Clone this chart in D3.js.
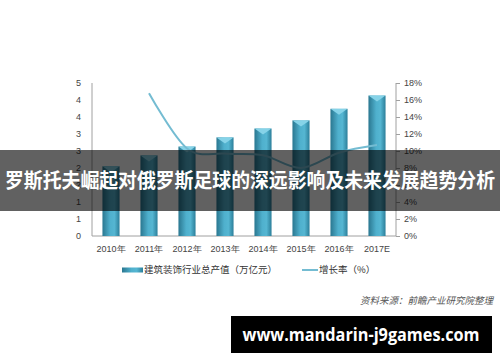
<!DOCTYPE html>
<html>
<head>
<meta charset="utf-8">
<script src="https://cdn.jsdelivr.net/npm/d3@7"></script>
<style>
  body { margin: 0; background: #fff; }
  svg { display: block; font-family: "Noto Sans CJK SC", "Noto Sans", sans-serif; }
</style>
</head>
<body>
<div id="chart"></div>
<script>
const years = ['2010年', '2011年', '2012年', '2013年', '2014年', '2015年', '2016年', '2017E'];
const output = [2.05, 2.37, 2.63, 2.90, 3.16, 3.40, 3.74, 4.13];   // 万亿元
const growth = [null, 16.8, 10.3, 9.7, 9.5, 8.0, 9.8, 10.7];       // %
const leftTicks = [0, 0.5, 1, 1.5, 2, 2.5, 3, 3.5, 4, 4.5];
const rightTicks = [0, 2, 4, 6, 8, 10, 12, 14, 16, 18];
const legendLabels = ['建筑装饰行业总产值（万亿元）', '增长率（%）'];
const title = '罗斯托夫崛起对俄罗斯足球的深远影响及未来发展趋势分析';
const source = '资料来源：前瞻产业研究院整理';
const site = 'www.mandarin-j9games.com';

const width = 500, height = 362;
const svg = d3.select('#chart').append('svg')
  .attr('width', width)
  .attr('height', height);

const defs = svg.append('defs');
const grad = defs.append('linearGradient').attr('id', 'barGrad');
grad.append('stop').attr('offset', '0%').attr('stop-color', '#2a7790');
grad.append('stop').attr('offset', '45%').attr('stop-color', '#4fb0cd');
grad.append('stop').attr('offset', '70%').attr('stop-color', '#55b6d2');
grad.append('stop').attr('offset', '100%').attr('stop-color', '#2c7f9a');

const x = d3.scaleBand()
  .domain(years)
  .range([92, 396])
  .paddingInner(0.55)
  .paddingOuter(0.275);
const yL = d3.scaleLinear().domain([0, 4.5]).range([236, 83]);
const yR = d3.scaleLinear().domain([0, 18]).range([236, 83]);

// axes
const leftAxis = svg.append('g')
  .attr('transform', 'translate(92,0)')
  .call(d3.axisLeft(yL).tickValues(leftTicks).tickSize(0).tickPadding(11).tickFormat(d => Math.round(d)));
const rightAxis = svg.append('g')
  .attr('transform', 'translate(396,0)')
  .call(d3.axisRight(yR).tickValues(rightTicks).tickSize(4).tickPadding(4).tickFormat(d => d + '%'));
const bottomAxis = svg.append('g')
  .attr('transform', 'translate(0,236)')
  .call(d3.axisBottom(x).tickSize(0).tickPadding(10));

[leftAxis, rightAxis, bottomAxis].forEach(a => {
  a.select('.domain').attr('stroke', '#a0a0a0');
  a.selectAll('.tick line').attr('stroke', '#a0a0a0');
  a.selectAll('text').attr('fill', '#444').style('font-size', '9px');
});
bottomAxis.select('.domain').attr('d', 'M92,0H396');
leftAxis.select('.domain').attr('d', 'M0,83V236');
rightAxis.select('.domain').attr('d', 'M0,83V236');

// bars
const bars = svg.append('g');
bars.selectAll('rect')
  .data(output)
  .join('rect')
  .attr('x', (d, i) => x(years[i]))
  .attr('y', d => yL(d))
  .attr('width', x.bandwidth())
  .attr('height', d => yL(0) - yL(d))
  .attr('fill', 'url(#barGrad)');
bars.selectAll('path.cap')
  .data(output)
  .join('path')
  .attr('class', 'cap')
  .attr('d', (d, i) => {
    const x0 = x(years[i]), w = x.bandwidth(), y0 = yL(d);
    return `M${x0},${y0}L${x0 + w},${y0}L${x0 + w / 2},${y0 + 6}Z`;
  })
  .attr('fill', '#86d3e8');

// growth line
const line = d3.line()
  .defined(d => d != null)
  .x((d, i) => x(years[i]) + x.bandwidth() / 2)
  .y(d => yR(d))
  .curve(d3.curveCardinal.tension(0));
svg.append('path')
  .datum(growth)
  .attr('d', line)
  .attr('fill', 'none')
  .attr('stroke', '#74bcd2')
  .attr('stroke-width', 2);

// legend
const legend = svg.append('g').style('font-size', '9.5px').attr('fill', '#333');
legend.append('rect').attr('x', 122).attr('y', 267.5).attr('width', 21).attr('height', 5).attr('fill', 'url(#barGrad)');
legend.append('text').attr('x', 144).attr('y', 270).attr('dy', '0.35em').text(legendLabels[0]);
legend.append('line').attr('x1', 302).attr('x2', 318).attr('y1', 270).attr('y2', 270)
  .attr('stroke', '#74bcd2').attr('stroke-width', 2);
legend.append('text').attr('x', 319).attr('y', 270).attr('dy', '0.35em').text(legendLabels[1]);

// source
svg.append('text')
  .attr('x', 493).attr('y', 301).attr('dy', '0.35em')
  .attr('text-anchor', 'end')
  .style('font-size', '9.5px').style('font-style', 'italic')
  .attr('fill', '#555')
  .text(source);

// title band
svg.append('rect').attr('x', 0).attr('y', 150).attr('width', width).attr('height', 61)
  .attr('fill', 'rgba(0,0,0,0.62)');
svg.append('text')
  .attr('x', 250).attr('y', 181).attr('dy', '0.35em')
  .attr('text-anchor', 'middle')
  .attr('fill', '#fff')
  .style('font-size', '20px').style('font-weight', 'bold')
  .attr('textLength', 490).attr('lengthAdjust', 'spacingAndGlyphs')
  .text(title);

// site box
svg.append('rect').attr('x', 231).attr('y', 316).attr('width', 261).attr('height', 37).attr('fill', '#000');
svg.append('text')
  .attr('x', 361).attr('y', 335).attr('dy', '0.35em')
  .attr('text-anchor', 'middle')
  .attr('fill', '#fff')
  .style('font-family', '"Open Sans", sans-serif')
  .style('font-size', '18px').style('font-weight', 'bold')
  .attr('textLength', 237).attr('lengthAdjust', 'spacingAndGlyphs')
  .text(site);
</script>
</body>
</html>
